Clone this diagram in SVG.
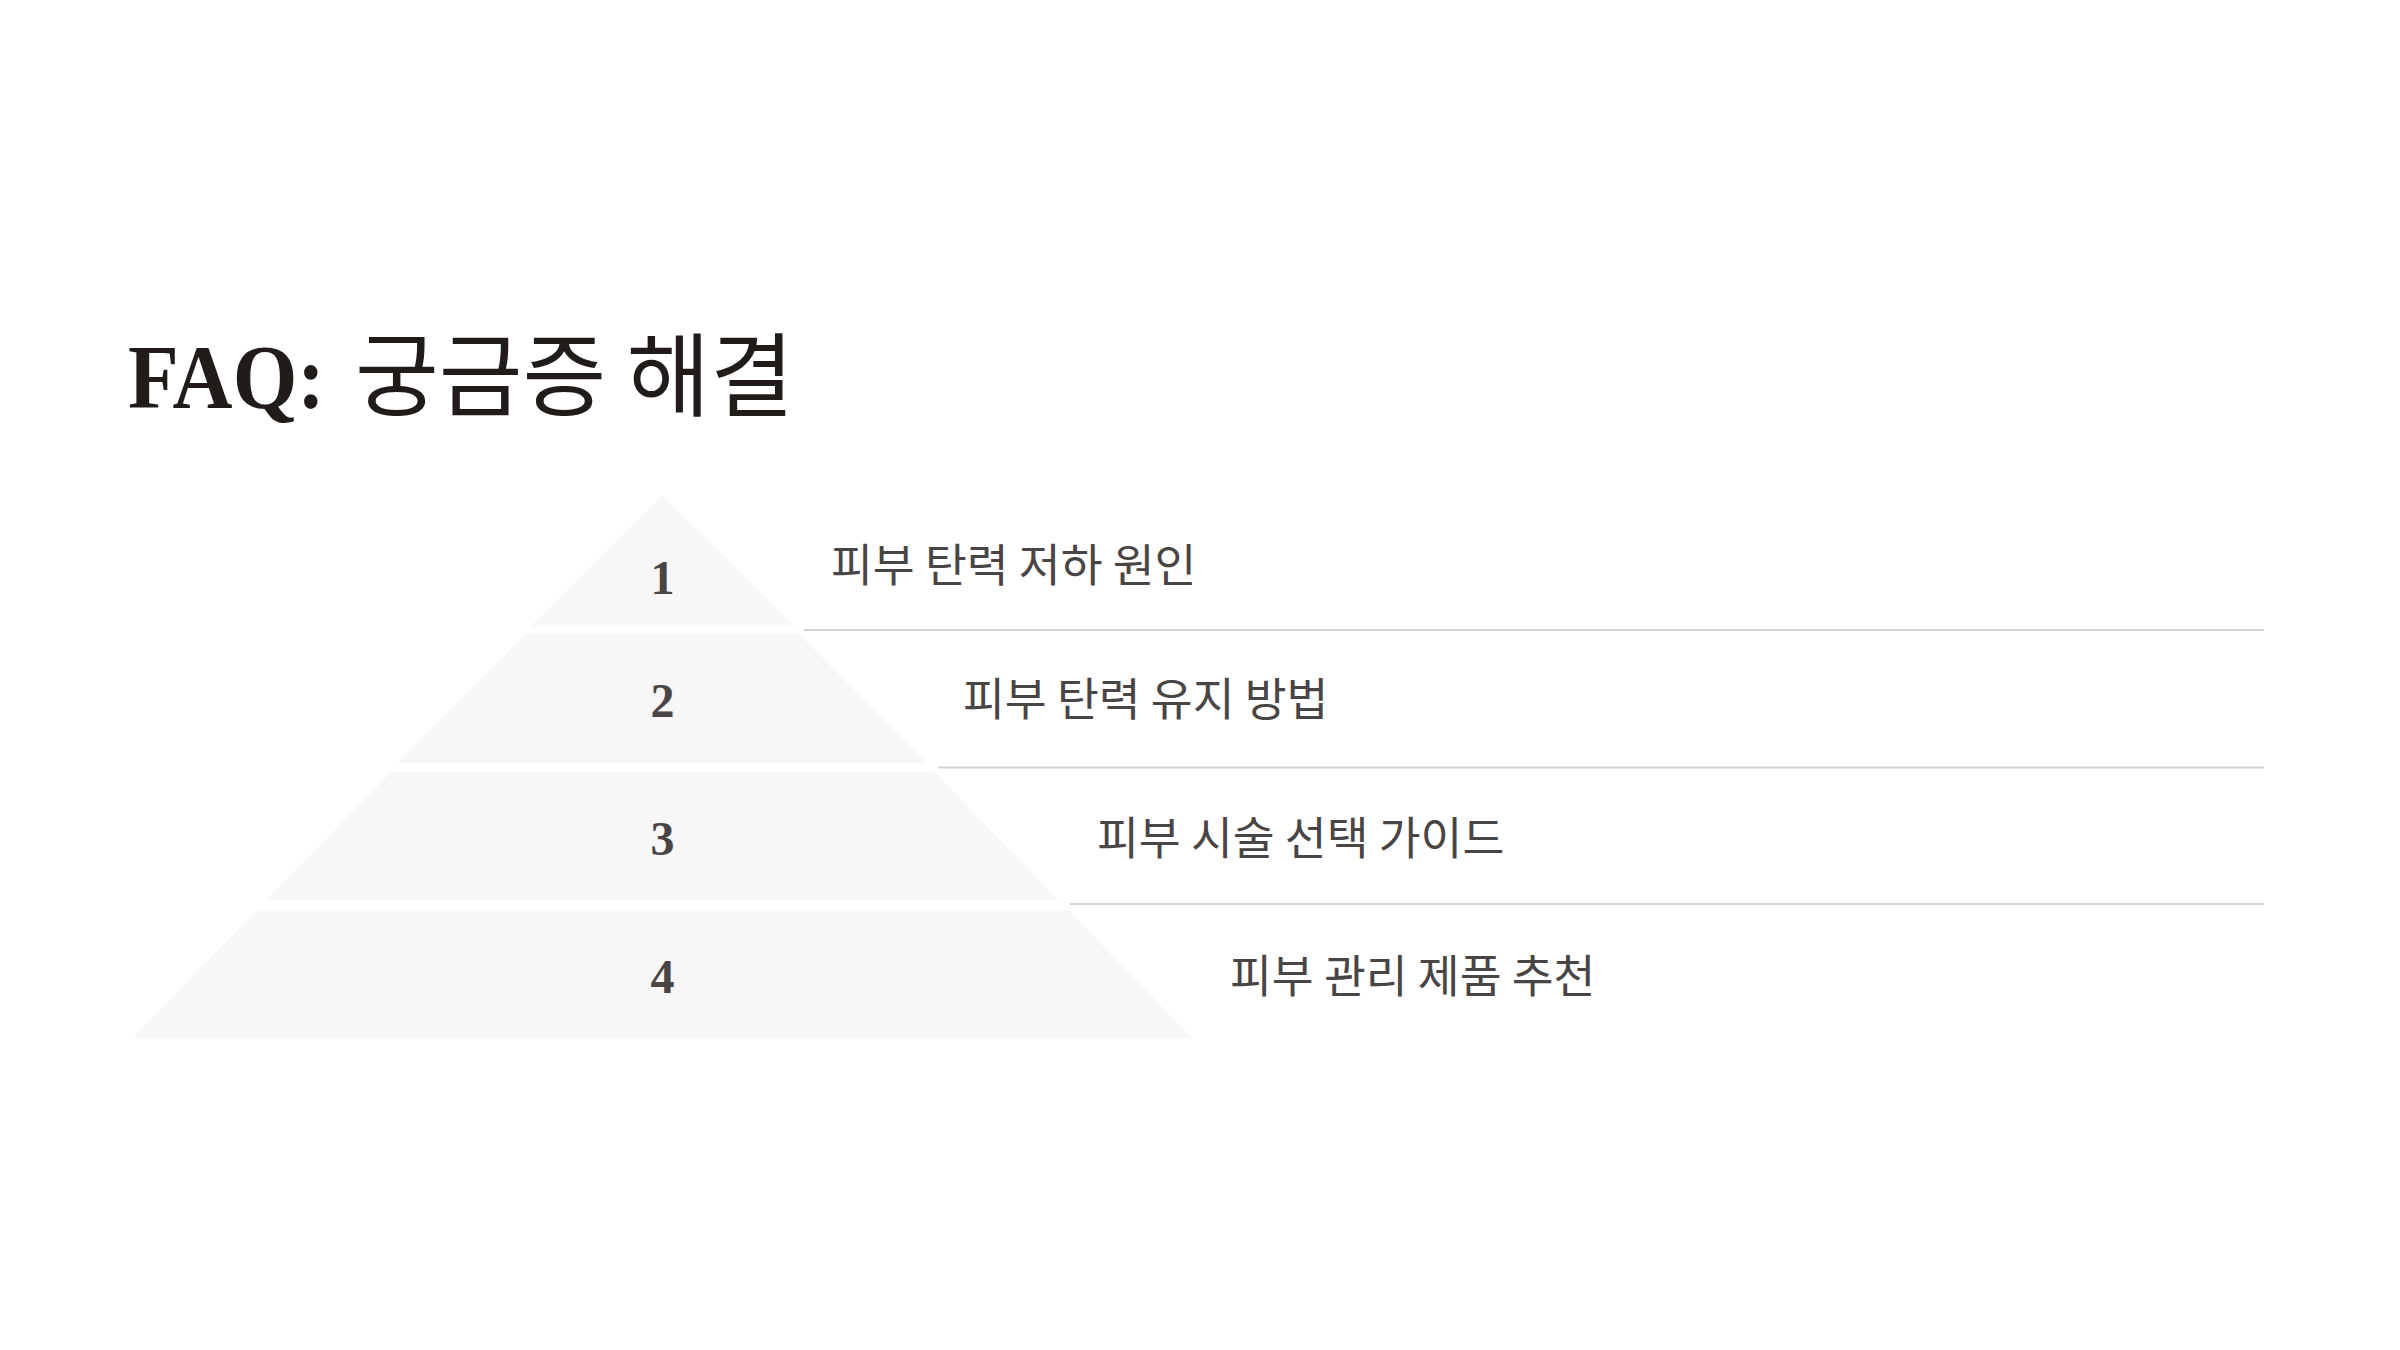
<svg xmlns="http://www.w3.org/2000/svg" width="2400" height="1350" viewBox="0 0 2400 1350">
  <style>
    .tier { fill: #f8f6f6; }
    .num { font-family: "Liberation Serif", "DejaVu Serif", serif; font-weight: bold; font-size: 48px; fill: #4a4545; text-anchor: middle; }
    .label { font-family: "Noto Sans CJK KR", "Noto Sans", sans-serif; font-size: 45.5px; fill: #4a4545; }
    .sep { stroke: #d6d2d2; stroke-width: 2; fill: none; }
  </style>
  <rect width="2400" height="1350" fill="#ffffff"/>
  <g id="title">
    <text x="128" y="408" font-family="Liberation Serif, DejaVu Serif, serif" font-weight="bold" font-size="92" fill="#211b19" textLength="197" lengthAdjust="spacingAndGlyphs">FAQ:</text>
    <text x="355" y="409" font-family="Noto Sans CJK KR, Noto Sans, sans-serif" font-size="91" fill="#211b19">궁금증 해결</text>
  </g>
  <g id="connectors">
    <line class="sep" x1="804" y1="630" x2="2264" y2="630"/>
    <line class="sep" x1="938" y1="767.5" x2="2264" y2="767.5"/>
    <line class="sep" x1="1070" y1="904" x2="2264" y2="904"/>
  </g>
  <g id="tier1">
    <polygon class="tier" points="662.5,496 794,626 531,626"/>
    <text class="num" x="662.5" y="594">1</text>
    <text class="label" x="831" y="582">피부 탄력 저하 원인</text>
  </g>
  <g id="tier2">
    <polygon class="tier" points="526,634 799,634 927,763 398,763"/>
    <text class="num" x="662.5" y="717">2</text>
    <text class="label" x="963" y="716">피부 탄력 유지 방법</text>
  </g>
  <g id="tier3">
    <polygon class="tier" points="391,772 934,772 1058,900 267,900"/>
    <text class="num" x="662.5" y="855">3</text>
    <text class="label" x="1097" y="855">피부 시술 선택 가이드</text>
  </g>
  <g id="tier4">
    <polygon class="tier" points="257,910 1068,910 1192,1038 133,1038"/>
    <text class="num" x="662.5" y="993">4</text>
    <text class="label" x="1230" y="993">피부 관리 제품 추천</text>
  </g>
</svg>
